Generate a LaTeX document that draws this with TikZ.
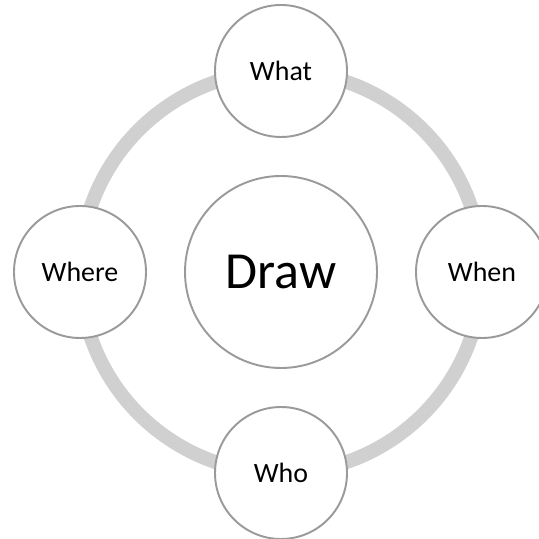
\documentclass[tikz,border=0pt]{standalone}
\usepackage{fontspec}
\setmainfont{Carlito}
\definecolor{ringgray}{HTML}{D0D0D0}
\definecolor{rimgray}{HTML}{9A9A9A}
\tikzset{
  petal/.style={circle, draw=rimgray, line width=1.1pt, fill=white, minimum size=2.64cm, inner sep=0pt, font=\fontsize{15.9}{18}\selectfont},
  hub/.style={circle, draw=rimgray, line width=1.1pt, fill=white, minimum size=3.84cm, inner sep=0pt, font=\fontsize{29.6}{34}\selectfont},
  ring/.style={ringgray, line width=0.28cm}
}
\begin{document}
\begin{tikzpicture}
  \useasboundingbox (-5.62,-5.34) rectangle (5.16,5.44);
  % ---- centre and ring ----
  \node[hub] (core) at (0,0) {Draw};
  \draw[ring] (core.center) circle (4.02);
  % ---- the four questions ----
  \foreach \ang/\name/\txt in {90/what/What, 0/when/When, -90/who/Who, 180/where/Where} {\node[petal] (\name) at (\ang:4.02) {\txt};}
\end{tikzpicture}
\end{document}
